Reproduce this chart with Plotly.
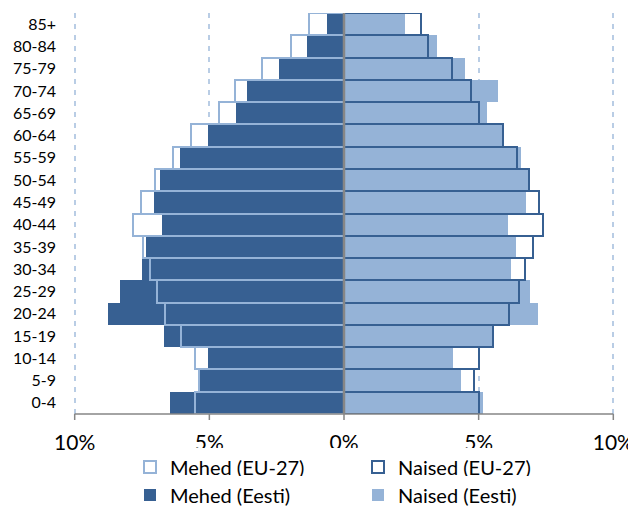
import plotly.graph_objects as go

ages = ["0-4", "5-9", "10-14", "15-19", "20-24", "25-29", "30-34", "35-39", "40-44",
        "45-49", "50-54", "55-59", "60-64", "65-69", "70-74", "75-79", "80-84", "85+"]

male_eesti = [6.45, 5.35, 5.05, 6.68, 8.77, 8.33, 7.50, 7.36, 6.77, 7.06, 6.83, 6.09,
              5.05, 4.00, 3.61, 2.42, 1.36, 0.62]
male_eu = [5.52, 5.39, 5.55, 6.06, 6.65, 6.95, 7.20, 7.45, 7.85, 7.55, 7.02, 6.35,
           5.68, 4.64, 4.05, 3.06, 1.95, 1.29]
female_eesti = [5.17, 4.36, 4.06, 5.50, 7.20, 6.89, 6.21, 6.38, 6.08, 6.74, 6.83, 6.56,
                5.85, 5.32, 5.70, 4.50, 3.45, 2.27]
female_eu = [5.00, 4.83, 5.00, 5.53, 6.11, 6.48, 6.71, 7.02, 7.38, 7.24, 6.86, 6.42,
             5.91, 5.00, 4.71, 4.02, 3.12, 2.85]

tick_vals = [-10, -5, 0, 5, 10]
tick_text = ["10%", "5%", "0%", "5%", "10%"]

DARK = "#376092"
LIGHT = "#95B3D7"
FONT = "Lato"

# the page body has an 8px margin, so the figure is 8px smaller than the window
W, H = 628, 498

fig = go.Figure()

fig.add_trace(go.Bar(
    y=ages, x=[-v for v in male_eesti], orientation="h", name="Mehed (Eesti)",
    marker=dict(color=DARK, line=dict(width=0)), width=1, legend="legend2"))
fig.add_trace(go.Bar(
    y=ages, x=female_eesti, orientation="h", name="Naised (Eesti)",
    marker=dict(color=LIGHT, line=dict(width=0)), width=1, legend="legend2"))
fig.add_trace(go.Bar(
    y=ages, x=[-v for v in male_eu], orientation="h", name="Mehed (EU-27)",
    marker=dict(color="rgba(255,255,255,0)", line=dict(color=LIGHT, width=2)), width=1,
    legend="legend"))
fig.add_trace(go.Bar(
    y=ages, x=female_eu, orientation="h", name="Naised (EU-27)",
    marker=dict(color="rgba(255,255,255,0)", line=dict(color=DARK, width=2)), width=1,
    legend="legend"))

fig.add_shape(type="line", xref="x", yref="paper", x0=0, x1=0, y0=0, y1=1,
              line=dict(color="#868686", width=2.5), layer="above")

fig.update_layout(
    width=W, height=H,
    margin=dict(l=64, r=20, t=5, b=92),
    barmode="overlay",
    plot_bgcolor="white", paper_bgcolor="white",
    font=dict(family=FONT, color="#000000"),
    xaxis=dict(range=[-10.1, 10.1], tickvals=tick_vals, ticktext=tick_text,
               automargin=False,
               showgrid=True, gridcolor="#B9CDE5", gridwidth=2, griddash="5px,6px",
               zeroline=False, showline=False,
               ticks="", ticklabelstandoff=14,
               tickfont=dict(size=21, family=FONT, color="#000000")),
    yaxis=dict(categoryorder="array", categoryarray=ages, range=[-0.5, 17.5],
               automargin=False,
               showgrid=False, zeroline=False, showline=False, ticks="",
               ticklabelstandoff=15,
               tickfont=dict(size=16, family=FONT, color="#000000")),
    legend=dict(orientation="h", xref="container", yref="container",
                x=122 / W, y=1 - 459 / H, xanchor="left", yanchor="middle",
                entrywidth=183, entrywidthmode="pixels",
                font=dict(size=20, family=FONT, color="#000000"), traceorder="normal"),
    legend2=dict(orientation="h", xref="container", yref="container",
                 x=122 / W, y=1 - 487 / H, xanchor="left", yanchor="middle",
                 entrywidth=183, entrywidthmode="pixels",
                 font=dict(size=20, family=FONT, color="#000000"), traceorder="normal"),
    bargap=0,
)

# bottom axis line from -10% to 10% with outside tick marks
fig.add_shape(type="line", xref="x", yref="paper", x0=tick_vals[0], x1=tick_vals[-1],
              y0=0, y1=0, line=dict(color="#868686", width=1.5), layer="above")
for tv in tick_vals:
    fig.add_shape(type="line", xref="x", yref="paper", x0=tv, x1=tv, y0=0, y1=-0.015,
                  line=dict(color="#868686", width=1.5), layer="above")

fig.write_html("out.html")
